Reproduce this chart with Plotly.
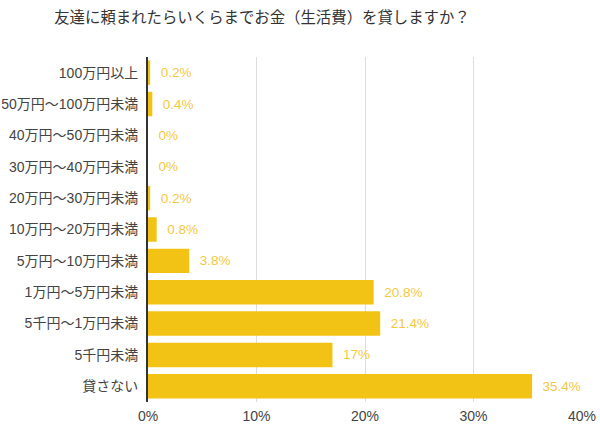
import plotly.graph_objects as go

categories = ["100万円以上", "50万円～100万円未満", "40万円～50万円未満", "30万円～40万円未満",
              "20万円～30万円未満", "10万円～20万円未満", "5万円～10万円未満", "1万円～5万円未満",
              "5千円～1万円未満", "5千円未満", "貸さない"]
values = [0.2, 0.4, 0, 0, 0.2, 0.8, 3.8, 20.8, 21.4, 17, 35.4]
labels = ["0.2%", "0.4%", "0%", "0%", "0.2%", "0.8%", "3.8%", "20.8%", "21.4%", "17%", "35.4%"]
tick_vals = [0, 10, 20, 30, 40]
tick_text = ["0%", "10%", "20%", "30%", "40%"]

FONT = "Liberation Sans, Arial, Noto Sans CJK JP, sans-serif"

fig = go.Figure(go.Bar(
    y=categories, x=values, orientation="h",
    marker=dict(color="#F2C314", line=dict(width=0)),
    text=["  " + t for t in labels], textposition="outside",
    textfont=dict(color="#F5C842", size=13.5, family=FONT),
    cliponaxis=False, width=0.78,
))

fig.update_layout(
    width=600, height=428,
    margin=dict(l=148, r=18, t=57, b=26),
    paper_bgcolor="white", plot_bgcolor="white",
    font=dict(family=FONT, color="#444444", size=14),
    title=dict(text="友達に頼まれたらいくらまでお金（生活費）を貸しますか？",
               x=262/600, xanchor="center", y=1-18/428, yanchor="middle",
               font=dict(size=15.4, color="#333333", family=FONT)),
    showlegend=False,
    xaxis=dict(range=[0, 40], tickvals=tick_vals, ticktext=tick_text,
               showgrid=True, gridcolor="#dddddd", gridwidth=1, zeroline=False,
               showline=False, ticks="", automargin=False, ticklabelstandoff=4,
               tickfont=dict(size=14, color="#444444")),
    yaxis=dict(autorange="reversed", showline=True, linecolor="#333333", linewidth=2,
               ticks="", showgrid=False, automargin=False, ticklabelstandoff=5,
               tickfont=dict(size=14, color="#444444")),
)

fig.write_html("out.html", config={"displayModeBar": False},
               post_script="document.body.style.margin='0';document.body.style.padding='0';")
